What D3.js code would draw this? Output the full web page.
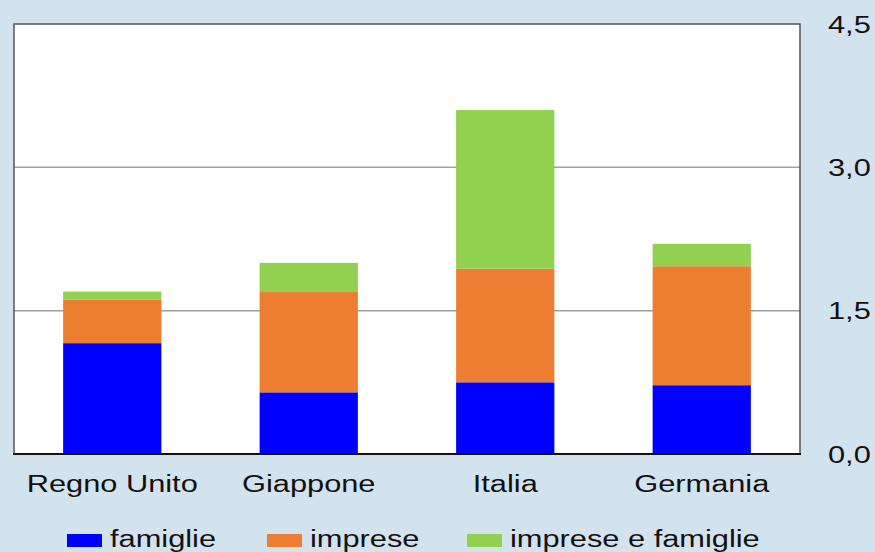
<!DOCTYPE html>
<html>
<head>
<meta charset="utf-8">
<script src="https://cdn.jsdelivr.net/npm/d3@7"></script>
<style>
  html, body { margin: 0; padding: 0; background: #d3e3ed; }
  svg { display: block; }
  text { font-family: "Liberation Sans", Arial, sans-serif; fill: #111; }
</style>
</head>
<body>
<svg id="chart" width="875" height="552"></svg>
<script>
const categories = ["Regno Unito", "Giappone", "Italia", "Germania"];
const seriesNames = ["famiglie", "imprese", "imprese e famiglie"];
const famiglie = [1.16, 0.645, 0.75, 0.72];
const imprese = [0.455, 1.05, 1.19, 1.245];
const impreseFamiglie = [0.085, 0.305, 1.66, 0.235];
const colors = ["#0000ff", "#ed7d31", "#92d050"];
const yTicks = [0, 1.5, 3.0, 4.5];
const yTickLabels = ["0,0", "1,5", "3,0", "4,5"];

const svg = d3.select("#chart");
const W = 875, H = 552;
const plot = { left: 14, right: 800, top: 24, bottom: 454 };
const sx = 1.31; // horizontal stretch of text in the reference
const fs = 23.5;

svg.append("rect").attr("width", W).attr("height", H).attr("fill", "#d3e3ed");

const x = d3.scaleBand().domain(categories)
  .range([plot.left, plot.right]).paddingInner(0.5).paddingOuter(0.25);
const y = d3.scaleLinear().domain([0, 4.5]).range([plot.bottom, plot.top]);

// plot background
svg.append("rect")
  .attr("x", plot.left).attr("y", plot.top)
  .attr("width", plot.right - plot.left).attr("height", plot.bottom - plot.top)
  .attr("fill", "#ffffff");

// gridlines
svg.append("g").selectAll("line")
  .data(yTicks.filter(t => t > 0 && t < 4.5))
  .join("line")
  .attr("x1", plot.left).attr("x2", plot.right)
  .attr("y1", d => y(d)).attr("y2", d => y(d))
  .attr("stroke", "#a0a0a0").attr("stroke-width", 1.5);

// stacked data
const rows = categories.map((c, i) => ({
  cat: c, "famiglie": famiglie[i], "imprese": imprese[i], "imprese e famiglie": impreseFamiglie[i]
}));
const stack = d3.stack().keys(seriesNames)(rows);

svg.append("g").selectAll("g")
  .data(stack)
  .join("g")
  .attr("fill", (d, i) => colors[i])
  .selectAll("rect")
  .data(d => d)
  .join("rect")
  .attr("x", d => x(d.data.cat))
  .attr("width", x.bandwidth())
  .attr("y", d => y(d[1]))
  .attr("height", d => y(d[0]) - y(d[1]));

// frame
svg.append("rect")
  .attr("x", plot.left).attr("y", plot.top)
  .attr("width", plot.right - plot.left).attr("height", plot.bottom - plot.top)
  .attr("fill", "none").attr("stroke", "#555").attr("stroke-width", 1.5);
svg.append("line")
  .attr("x1", plot.left - 1).attr("x2", plot.right + 1)
  .attr("y1", plot.bottom).attr("y2", plot.bottom)
  .attr("stroke", "#111").attr("stroke-width", 2);

// right axis labels
svg.append("g").selectAll("text")
  .data(yTicks)
  .join("text")
  .attr("transform", (d) => `translate(828,${y(d) + 8.5}) scale(${sx},1)`)
  .attr("font-size", fs)
  .text((d, i) => yTickLabels[i]);

// category labels
svg.append("g").selectAll("text")
  .data(categories)
  .join("text")
  .attr("transform", d => `translate(${x(d) + x.bandwidth() / 2},492) scale(${sx},1)`)
  .attr("text-anchor", "middle")
  .attr("font-size", fs)
  .text(d => d);

// legend
const leg = svg.append("g").selectAll("g")
  .data(seriesNames)
  .join("g")
  .attr("transform", (d, i) => `translate(${67 + i * 200},0)`);
leg.append("rect")
  .attr("x", 0).attr("y", 534).attr("width", 35).attr("height", 13)
  .attr("fill", (d, i) => colors[i]);
leg.append("text")
  .attr("transform", `translate(43,547) scale(${sx},1)`)
  .attr("font-size", fs)
  .text(d => d);
</script>
</body>
</html>
